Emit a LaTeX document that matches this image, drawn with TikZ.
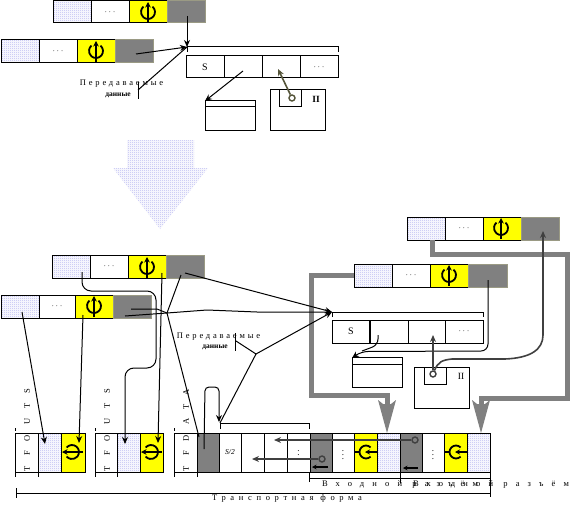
\documentclass[tikz,border=0pt]{standalone}
\usepackage{fontspec}
\usetikzlibrary{arrows.meta,patterns}
\setmainfont{Liberation Serif}
\newfontfamily\spA[LetterSpace=33]{Liberation Serif}
\newfontfamily\spB[LetterSpace=96]{Liberation Serif}
\newfontfamily\spC[LetterSpace=55]{Liberation Serif}
\newfontfamily\spV[LetterSpace=118]{Liberation Serif}
\pgfdeclarepatternformonly{pixdots}{\pgfqpoint{0pt}{0pt}}{\pgfqpoint{2pt}{2pt}}{\pgfqpoint{2pt}{2pt}}{%
  \pgfpathrectangle{\pgfqpoint{0pt}{0pt}}{\pgfqpoint{1pt}{1pt}}%
  \pgfpathrectangle{\pgfqpoint{1pt}{1pt}}{\pgfqpoint{1pt}{1pt}}%
  \pgfusepath{fill}}
\definecolor{lav}{HTML}{B4B4F0}
\definecolor{grayc}{HTML}{808080}
\definecolor{graye}{HTML}{9A9A84}
\definecolor{darkl}{HTML}{404040}
\definecolor{olivel}{HTML}{55553A}
\definecolor{yel}{HTML}{FFFF00}
\tikzset{
  cellb/.style={draw=black,line width=1pt,inner sep=0pt,outer sep=0pt,font=\fontsize{9}{9}\selectfont},
  patc/.style={pattern=pixdots,pattern color=lav},
  whitec/.style={fill=white},
  yelc/.style={fill=yel},
  grayk/.style={fill=grayc,draw=graye},
  grayb/.style={fill=grayc},
  conn/.style={draw=black,line width=1pt},
  arr/.style={conn,-{Stealth[length=7pt,width=6pt]}},
  darkarr/.style={draw=darkl,line width=1.6pt,-{Stealth[length=7pt,width=6pt]}},
  olivearr/.style={draw=olivel,line width=1.6pt,-{Stealth[length=7pt,width=6pt]}},
  pipe/.style={draw=grayc,line width=5pt},
  headf/.style={fill=grayc,draw=none},
  lbl/.style={inner sep=0pt,outer sep=0pt,font=\fontsize{8.5}{9}\selectfont},
  plain/.style={draw=black,line width=1pt,fill=white,inner sep=0pt,outer sep=0pt},
  ring/.style={draw=#1,line width=1.4pt,fill=none,circle,inner sep=0pt,minimum size=6pt},
  symline/.style={line width=1.8pt,draw=black},
  bigs/.style={font=\fontsize{10}{10}\selectfont},
  smalld/.style={lbl,font=\fontsize{7.5}{8}\bfseries},
}
\newcommand\cellnode[7]{%
  \node[cellb,#6,minimum width={(#3-#2)*1pt},minimum height={(#5-#4)*1pt}] (#1) at ({(#2+#3)/2},{(#4+#5)/2}) {#7};}
\newcommand\symb[3]{%
  \begin{scope}[shift={(#1,#2)},rotate=#3,x=1pt,y=1pt]
    \draw[symline] (50:7) arc (50:-230:7);
    \draw[symline,-{Stealth[length=5.5pt,width=5.5pt]}] (0,-11) -- (0,10);
  \end{scope}}
\newcommand\symr[2]{%
  \begin{scope}[shift={(#1,#2)},x=1pt,y=1pt]
    \draw[symline] (45:6.5) arc (45:315:6.5);
    \draw[symline] (-11.5,0) -- (-6.5,0);
    \draw[symline,-{Stealth[length=5pt,width=5pt]}] (11,0) -- (-1,0);
  \end{scope}}
\begin{document}
\begin{tikzpicture}[x=1pt,y=-1pt,line cap=butt]
\useasboundingbox (0,0) rectangle (572,505);
\fill[white] (0,0) rectangle (572,505);

% ------- big arrow
\fill[pattern=pixdots,pattern color=lav] (127,141) rectangle (194,168);
\fill[pattern=pixdots,pattern color=lav] (113,168) -- (208,168) -- (160,229) -- cycle;

% ------- top registers
\cellnode{ta}{53}{91}{1}{23}{patc}{}
\cellnode{tb}{91}{129}{1}{23}{whitec}{$\cdots$}
\cellnode{tc}{129}{167}{1}{23}{yelc}{}
\cellnode{td}{167}{205}{1}{23}{grayk}{}
\symb{148}{12}{0}
\cellnode{ua}{1}{39}{40}{63}{patc}{}
\cellnode{ub}{39}{77}{40}{63}{whitec}{$\cdots$}
\cellnode{uc}{77}{115}{40}{63}{yelc}{}
\cellnode{ud}{115}{153}{40}{63}{grayk}{}
\symb{96}{51}{0}
\cellnode{sa}{186}{224}{56}{78}{whitec,bigs}{S}
\cellnode{sb}{224}{262}{56}{78}{whitec}{}
\cellnode{sc}{262}{300}{56}{78}{whitec}{}
\cellnode{sd}{300}{338}{56}{78}{whitec}{$\cdots$}
\coordinate (f1) at (187,47);
\coordinate (f1a) at (187,16);
\coordinate (f1b) at (136,54);
\coordinate (f1c) at (138,90);
\draw[arr] (f1a) -- (f1);
\draw[arr] (f1b) -- (f1);
\draw[conn] (f1) -- (f1c);
\coordinate (b1l) at (187,52); \coordinate (b1r) at (338,52);
\draw[conn] (b1l) -- (f1) -- (338,47) -- (b1r);
\coordinate (v1a) at (138,82); \coordinate (v1b) at (138,99);
\node[lbl,font=\fontsize{8.5}{9}\spA] (tx1) at (121.5,84) {Передаваемые};
\node[smalld] (tx2) at (118,95) {данные};
\draw[conn] (v1a) -- (v1b);
% table + II box
\node[plain,minimum width=50pt,minimum height=30pt] (bx1) at (230,116) {};
\draw[line width=1pt] (bx1.north west) ++(0,6) coordinate (bx1l) -- ++(50,0) coordinate (bx1r);
\coordinate (a1s) at (243,71);
\draw[arr] (a1s) -- (bx1.north west);
\node[plain,minimum width=55pt,minimum height=41pt] (bx2) at (297.5,110.5) {};
\node[plain,minimum width=22pt,minimum height=17pt] (bx2i) at (290,98.5) {};
\node[lbl,font=\fontsize{9.5}{10}\bfseries] (bx2t) at (316,99) {II};
\node[ring=olivel] (r1) at (292,98) {};
\coordinate (a2e) at (278,69);
\draw[olivearr] (r1) -- (a2e);

% ------- lower left registers
\cellnode{la}{52}{90}{255}{278}{patc}{}
\cellnode{lb}{90}{128}{255}{278}{whitec}{$\cdots$}
\cellnode{lc}{128}{166}{255}{278}{yelc}{}
\cellnode{ld}{166}{204}{255}{278}{grayk}{}
\symb{147}{267}{0}
\cellnode{ma}{1}{39}{295}{318}{patc}{}
\cellnode{mb}{39}{75}{295}{318}{whitec}{$\cdots$}
\cellnode{mc}{75}{113}{295}{318}{yelc}{}
\cellnode{md}{113}{151}{295}{318}{grayk}{}
\symb{94}{306}{0}

% ------- right registers
\cellnode{na}{354}{392}{264}{287}{patc}{}
\cellnode{nb}{392}{430}{264}{287}{whitec}{$\cdots$}
\cellnode{nc}{430}{468}{264}{287}{yelc}{}
\cellnode{nd}{468}{507}{264}{287}{grayk}{}
\symb{449}{275}{0}
\cellnode{oa}{407}{445}{217}{240}{patc}{}
\cellnode{ob}{445}{483}{217}{240}{whitec}{$\cdots$}
\cellnode{oc}{483}{521}{217}{240}{yelc}{}
\cellnode{od}{521}{559}{217}{240}{grayk}{}
\symb{501}{228}{0}

% ------- thick pipes
\coordinate (p1e) at (387,410);
\coordinate (p2s) at (432,240);
\coordinate (p2e) at (481,410);
\draw[pipe] (na.west) -- (311,275.5) -- (311,395) -- (387,395) -- (p1e);
\draw[pipe] (p2s) -- (432,254) -- (567,254) -- (567,398) -- (481,398) -- (p2e);

% ------- middle S register
\cellnode{qa}{332}{370}{320}{343}{whitec,bigs}{S}
\cellnode{qb}{370}{408}{320}{343}{whitec}{}
\cellnode{qc}{408}{445}{320}{343}{whitec}{}
\cellnode{qd}{445}{483}{320}{343}{whitec}{$\cdots$}
\draw[line width=1.8pt] (qa.north east) -- (qa.south east);
\node[plain,minimum width=50pt,minimum height=30pt] (bx3) at (377,372) {};
\draw[line width=1pt] (bx3.north west) ++(0,7) coordinate (bx3l) -- ++(50,0) coordinate (bx3r);
\node[plain,minimum width=55pt,minimum height=41pt] (bx4) at (441.5,387.5) {};
\node[plain,minimum width=22pt,minimum height=17pt] (bx4i) at (435,375.5) {};
\node[lbl,font=\fontsize{9.5}{10}\selectfont] (bx4t) at (461,376) {II};
\node[ring=darkl] (r2) at (433,374) {};

\coordinate (f2) at (332,312);
\coordinate (b2r) at (483,317);
\coordinate (b2l) at (332,317);
\draw[conn] (b2l) -- (f2) -- (483,312) -- (b2r);

\coordinate (a3s) at (488,280);
\coordinate (a3e) at (352,358);
\coordinate (a4s) at (378,335);
\draw[arr,rounded corners=7pt] (a3s) -- (488,351) -- (361,351.5) -- (a3e);
\draw[conn,rounded corners=6pt] (a4s) -- (378,345) -- (362,351);
\coordinate (a5e) at (433,335);
\draw[darkarr] (r2) -- (a5e);
\coordinate (a6e) at (543,231);
\draw[darkarr] (r2) .. controls (438,362) and (442,360) .. (452,359) -- (505,359) .. controls (530,358) and (543,350) .. (543,335) -- (a6e);

% ------- bottom row
\cellnode{c1}{15}{38}{433}{472}{whitec}{}
\cellnode{c2}{38}{61}{433}{472}{patc}{}
\cellnode{c3}{61}{85}{433}{472}{yelc}{}
\symb{72}{452}{90}
\cellnode{d1}{95}{117}{433}{472}{whitec}{}
\cellnode{d2}{117}{140}{433}{472}{patc}{}
\cellnode{d3}{140}{163}{433}{472}{yelc}{}
\symb{151}{452}{90}
\cellnode{e1}{174}{197}{433}{472}{whitec}{}
\cellnode{e2}{197}{219}{433}{472}{grayb}{}
\cellnode{e3}{219}{241}{433}{472}{whitec}{\fontsize{7.5}{8}\selectfont\itshape S/2}
\cellnode{e4}{241}{264}{433}{472}{whitec}{}
\cellnode{e5}{264}{287}{433}{472}{whitec}{}
\cellnode{e6}{287}{310}{433}{472}{whitec}{$\vdots$}
\cellnode{e7}{310}{332}{433}{472}{grayb}{}
\cellnode{e8}{332}{354}{433}{472}{whitec}{$\vdots$}
\cellnode{e9}{354}{377}{433}{472}{yelc}{}
\cellnode{e10}{377}{400}{433}{472}{patc}{}
\cellnode{e11}{400}{422}{433}{472}{grayb}{}
\cellnode{e12}{422}{444}{433}{472}{whitec}{$\vdots$}
\cellnode{e13}{444}{467}{433}{472}{yelc}{}
\cellnode{e14}{467}{490}{433}{472}{patc}{}

% pipe heads
\fill[headf] (378,400) -- (383,404) -- (391,404) -- (396,400) -- (387,433) -- cycle;
\fill[headf] (472,400) -- (477,404) -- (485,404) -- (490,400) -- (481,433) -- cycle;

\symr{366}{452}
\symr{456}{452}

% rotated labels
\node[lbl,rotate=90,anchor=west,font=\fontsize{8.5}{9}\spV] (t1) at (27,471) {TFOUTS};
\node[lbl,rotate=90,anchor=west,font=\fontsize{8.5}{9}\spV] (t2) at (107,471) {TFOUTS};
\node[lbl,rotate=90,anchor=west,font=\fontsize{8.5}{9}\spV] (t3) at (186,471) {TFDATA};

% ticks under cells
\foreach \n/\xx in {a/15,b/38,c/95,g/117,h/174,i/197}{
  \coordinate (tk\n a) at (\xx,472); \coordinate (tk\n b) at (\xx,477);
  \draw[conn] (tk\n a) -- (tk\n b);
}
\foreach \n/\xx in {a/15,c/95,h/174}{
  \coordinate (dt\n a) at (\xx,428); \coordinate (dt\n b) at (\xx,431);
  \draw[conn] (dt\n a) -- (dt\n b);
}

% connectors into the bottom row
\coordinate (b1s) at (22,312); \coordinate (b1e) at (45,444);
\draw[arr] (b1s) -- (b1e);
\coordinate (b2s) at (83,315); \coordinate (b2e) at (79,443);
\draw[arr] (b2s) -- (b2e);
\coordinate (b3s) at (82,272); \coordinate (b3e) at (125,444);
\draw[arr,rounded corners=9pt] (b3s) -- (82,291) -- (156,291) -- (156,368) -- (125,368) -- (b3e);
\coordinate (b4s) at (162,273); \coordinate (b4e) at (158,443);
\draw[arr] (b4s) -- (b4e);

% focus
\coordinate (f3) at (167,313);
\coordinate (m1) at (125,316);
\coordinate (m2) at (131,309);
\coordinate (l1) at (181,275);
\coordinate (l2) at (185,273);
\coordinate (e2top) at (199,437);
\draw[conn] (m1) -- (f3);
\draw[conn] (m2) -- (157,309) -- (f3);
\draw[conn] (l1) -- (f3);
\draw[conn] (f3) -- (e2top);
\draw[arr] (f3) -- (207,310) -- (257,312) -- (f2);
\draw[arr] (l2) -- (f2);
\coordinate (j1) at (256,354);
\coordinate (j2) at (236,341);
\coordinate (j3) at (220,423);
\draw[arr] (j1) -- (f2);
\draw[conn] (j2) -- (j1) -- (j3);
\coordinate (v2a) at (235,333); \coordinate (v2b) at (235,351);
\node[lbl,font=\fontsize{8.5}{9}\spA] (tx3) at (218.5,337) {Передаваемые};
\node[smalld] (tx4) at (215,347) {данные};
\draw[conn] (v2a) -- (v2b);
% data loop
\coordinate (g1) at (204,449); \coordinate (g2) at (219,422);
\draw[arr,rounded corners=4pt] (g1) -- (205,387) -- (219,387) -- (g2);
\coordinate (k1) at (220,429); \coordinate (k2) at (309,429);
\draw[conn] (k1) -- (220,423) -- (309,423) -- (k2);

% dark connectors
\node[ring=darkl] (r3) at (415,440) {};
\node[ring=darkl] (r4) at (322,459) {};
\coordinate (h1) at (274,440); \coordinate (h2) at (252,459);
\draw[darkarr] (r3) -- (h1);
\draw[darkarr] (r4) -- (h2);
\coordinate (w1) at (328,467); \coordinate (w2) at (312,467);
\coordinate (w3) at (418,468); \coordinate (w4) at (403,468);
\draw[symline,-{Stealth[length=4.5pt,width=4.5pt]}] (w1) -- (w2);
\draw[symline,-{Stealth[length=4.5pt,width=4.5pt]}] (w3) -- (w4);

% brackets at the bottom
\coordinate (y1) at (309,482); \coordinate (y2) at (309,472);
\coordinate (y3) at (400,483); \coordinate (y4) at (400,472);
\coordinate (y5) at (490,472); \coordinate (y6) at (490,497);
\coordinate (y7) at (309,478); \coordinate (y8) at (490,478);
\draw[conn] (y1) -- (y2);
\draw[conn] (y3) -- (y4);
\draw[conn] (y5) -- (y6);
\draw[conn] (y7) -- (y8);
\coordinate (z1) at (16,488); \coordinate (z2) at (16,498);
\coordinate (z3) at (16,493); \coordinate (z4) at (490,493);
\draw[conn] (z1) -- (z2);
\draw[conn] (z3) -- (z4);
\node[lbl,anchor=west,font=\fontsize{8.5}{9}\spB] (tv1) at (322,484.5) {Входной разъём};
\node[lbl,anchor=west,font=\fontsize{8.5}{9}\spB] (tv2) at (413,484.5) {Входной разъём};
\node[lbl,anchor=west,font=\fontsize{8.5}{9}\spC] (tv3) at (212,498.5) {Транспортная форма};
\end{tikzpicture}
\end{document}
